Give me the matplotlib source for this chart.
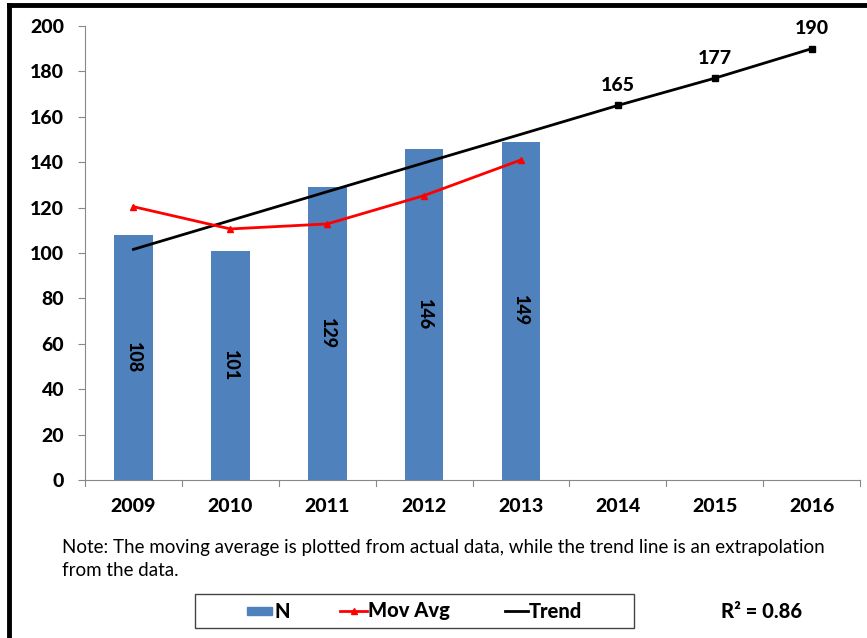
import matplotlib

matplotlib.use("Agg")

import matplotlib.pyplot as plt
from matplotlib.lines import Line2D
from matplotlib.patches import Rectangle

years = ["2009", "2010", "2011", "2012", "2013", "2014", "2015", "2016"]
n_values = [108, 101, 129, 146, 149]
mov_avg = [120.4, 110.6, 112.8, 125.3, 141.0]
trend = [101.6, 114.3, 127.0, 139.7, 152.3, 165, 177, 190]
trend_labels = {5: "165", 6: "177", 7: "190"}
y_ticks = [0, 20, 40, 60, 80, 100, 120, 140, 160, 180, 200]

BLUE = "#4F81BD"
GRID = "#888888"
FONT = ["Lato", "DejaVu Sans"]
BOLD = 900

W, H = 867, 638


def fx(px):
    return px / W


def fy(py):
    return 1 - py / H


fig = plt.figure(figsize=(W / 100, H / 100), dpi=100)
fig.patch.set_facecolor("white")

# outer frame, only top and left edges show
fig.add_artist(Line2D([fx(9), fx(W)], [fy(5), fy(5)], color="black", linewidth=3.5))
fig.add_artist(Line2D([fx(9), fx(9)], [fy(5), fy(H)], color="black", linewidth=3.5))

ax = fig.add_axes([fx(85), fy(480), fx(775), 454 / H])

x = list(range(len(years)))
ax.bar(x[:len(n_values)], n_values, width=0.4, color=BLUE, zorder=2)
for i, v in enumerate(n_values):
    ax.text(i, v / 2, str(v), rotation=270, ha="center", va="center",
            fontsize=13, fontweight=BOLD, family=FONT, color="black", zorder=3)

ax.plot(x[:len(mov_avg)], mov_avg, color="red", linewidth=2, marker="^", markersize=5, zorder=4)
ax.plot(x, trend, color="black", linewidth=2, zorder=3)
ax.plot(x[5:], trend[5:], linestyle="none", marker="s", markersize=5, color="black", zorder=4)
for i, lab in trend_labels.items():
    ax.text(i, trend[i] + 5, lab, ha="center", va="bottom", fontsize=14,
            fontweight=BOLD, family=FONT)

ax.set_xlim(-0.5, len(years) - 0.5)
ax.set_ylim(0, 200)
ax.set_yticks(y_ticks)
ax.set_yticklabels([str(t) for t in y_ticks], fontsize=14, fontweight=BOLD, family=FONT)
ax.set_xticks(x)
ax.set_xticklabels(years, fontsize=14, fontweight=BOLD, family=FONT)
ax.tick_params(axis="x", length=0, pad=13)
ax.tick_params(axis="y", length=5, color=GRID, pad=10)
for i in range(len(years) + 1):
    ax.plot([i - 0.5, i - 0.5], [0, -2.5], color=GRID, linewidth=0.8, clip_on=False)

for side in ["top", "right"]:
    ax.spines[side].set_visible(False)
ax.spines["left"].set_color(GRID)
ax.spines["bottom"].set_color(GRID)

note_1 = "Note: The moving average is plotted from actual data, while the trend line is an extrapolation"
note_2 = "from the data."
fig.text(fx(62), fy(548), note_1, fontsize=13.5, family=FONT, va="center", ha="left")
fig.text(fx(62), fy(571), note_2, fontsize=13.5, family=FONT, va="center", ha="left")

# legend, drawn by hand to match the original box
LEG_Y = 611
fig.add_artist(Rectangle((fx(195), fy(628)), fx(634 - 195), 34 / H, transform=fig.transFigure,
                         fill=False, edgecolor="#444444", linewidth=1.0))
fig.add_artist(Rectangle((fx(247), fy(615)), fx(25), 8 / H, transform=fig.transFigure,
                         facecolor=BLUE, edgecolor=BLUE))
fig.add_artist(Line2D([fx(340), fx(367)], [fy(LEG_Y), fy(LEG_Y)], color="red", linewidth=2))
fig.add_artist(Line2D([fx(353.5)], [fy(LEG_Y)], color="red", marker="^", markersize=4))
fig.add_artist(Line2D([fx(505), fx(528)], [fy(LEG_Y), fy(LEG_Y)], color="black", linewidth=2))
for px, lab in [(275, "N"), (368, "Mov Avg"), (529, "Trend")]:
    fig.text(fx(px), fy(LEG_Y), lab, fontsize=14.5, fontweight=BOLD, family=FONT,
             ha="left", va="center")

fig.text(fx(762), fy(611), "R² = 0.86", fontsize=14.5, fontweight=BOLD, family=FONT,
         ha="center", va="center")

fig.savefig("out.png", dpi=100, facecolor="white")
